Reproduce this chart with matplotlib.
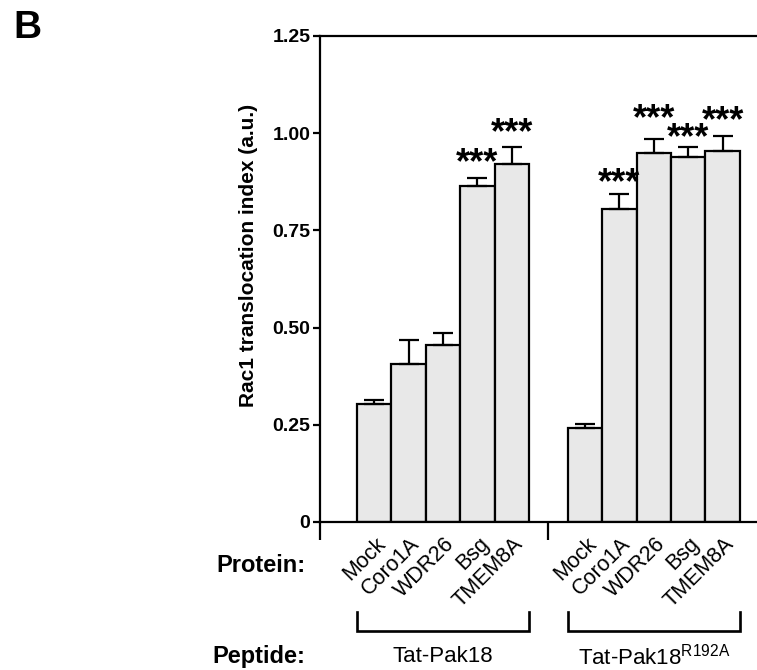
import matplotlib
matplotlib.use("Agg")
import matplotlib.pyplot as plt
import matplotlib.transforms as mtransforms
import numpy as np

plt.rcParams["font.family"] = ["Liberation Sans", "DejaVu Sans"]
plt.rcParams["mathtext.default"] = "regular"

proteins = ["Mock", "Coro1A", "WDR26", "Bsg", "TMEM8A"]
peptides = ["Tat-Pak18", "Tat-Pak18$^{R192A}$"]
y_ticks = [0, 0.25, 0.50, 0.75, 1.00, 1.25]
y_tick_labels = ["0", "0.25", "0.50", "0.75", "1.00", "1.25"]

pak18_mean = [0.303, 0.406, 0.454, 0.863, 0.922]
pak18_err = [0.011, 0.062, 0.031, 0.021, 0.043]
r192a_mean = [0.243, 0.804, 0.948, 0.939, 0.955]
r192a_err = [0.008, 0.040, 0.037, 0.025, 0.038]
pak18_sig = ["", "", "", "***", "***"]
r192a_sig = ["", "***", "***", "***", "***"]

# vertical nudge of the star labels above the caps (points), staggered as in the figure
pak18_star_pad = [0, 0, 0, 3.5, 2.5]
r192a_star_pad = [0, 0.5, 7, -1, 3.5]

gap = 1.13
x_left = np.arange(len(proteins))
x_right = np.arange(len(proteins)) + len(proteins) + gap
xlim = (-1.576, 11.13)

fig = plt.figure(figsize=(7.57, 6.70), dpi=100)
ax = fig.add_axes([320 / 757, 148 / 670, 437 / 757, 486 / 670])

lw = 1.6
for xs, means, errs, sig, pads in [
    (x_left, pak18_mean, pak18_err, pak18_sig, pak18_star_pad),
    (x_right, r192a_mean, r192a_err, r192a_sig, r192a_star_pad),
]:
    ax.bar(xs, means, width=1.0, color="#e8e8e8", edgecolor="black",
           linewidth=lw, zorder=2)
    ax.errorbar(xs, means, yerr=[np.zeros(len(errs)), errs], fmt="none",
                ecolor="black", elinewidth=lw, capsize=7.5, capthick=lw,
                zorder=3)
    for x, m, e, s, p in zip(xs, means, errs, sig, pads):
        if s:
            ax.annotate(s, xy=(x, m + e), xytext=(0, p), textcoords="offset points",
                        ha="center", va="baseline", fontsize=26, fontweight="bold")

ax.set_xlim(*xlim)
ax.set_ylim(0, 1.25)
ax.set_yticks(y_ticks)
ax.set_yticklabels(y_tick_labels, fontsize=14, fontweight="bold")
ax.set_xticks([xlim[0], (x_left[-1] + x_right[0]) / 2])
ax.set_xticklabels([])
ax.tick_params(axis="y", length=5, width=lw, pad=2)
ax.tick_params(axis="x", length=13, width=lw)
ax.spines["right"].set_visible(False)
for side in ["left", "top", "bottom"]:
    ax.spines[side].set_linewidth(lw)

fig.text(248 / 757, 1 - 255 / 670, "Rac1 translocation index (a.u.)",
         rotation=90, ha="center", va="center", fontsize=15, fontweight="bold")

# category labels
for xs in (x_left, x_right):
    for x, name in zip(xs, proteins):
        ax.annotate(name, xy=(x, 0), xytext=(0.5, -8), textcoords="offset points",
                    rotation=45, rotation_mode="anchor", ha="right", va="top",
                    fontsize=15.5, annotation_clip=False)

# brackets and peptide labels
trans = mtransforms.blended_transform_factory(ax.transData, ax.transAxes)
for xs, name in zip((x_left, x_right), peptides):
    x0, x1 = xs[0] - 0.5, xs[-1] + 0.5
    ax.plot([x0, x0, x1, x1], [-0.185, -0.224, -0.224, -0.185], color="black",
            lw=lw * 1.2, transform=trans, clip_on=False, solid_joinstyle="miter")
    ax.text((x0 + x1) / 2, -0.276, name, transform=trans, ha="center",
            va="center", fontsize=16)

fig.text(305 / 757, 1 - 566 / 670, "Protein:", ha="right", va="center",
         fontsize=17, fontweight="bold")
fig.text(305 / 757, 1 - 656 / 670, "Peptide:", ha="right", va="center",
         fontsize=17, fontweight="bold")
fig.text(13 / 757, 1 - 10 / 670, "B", ha="left", va="top", fontsize=28,
         fontweight="bold")

fig.savefig("out.png", dpi=100)
